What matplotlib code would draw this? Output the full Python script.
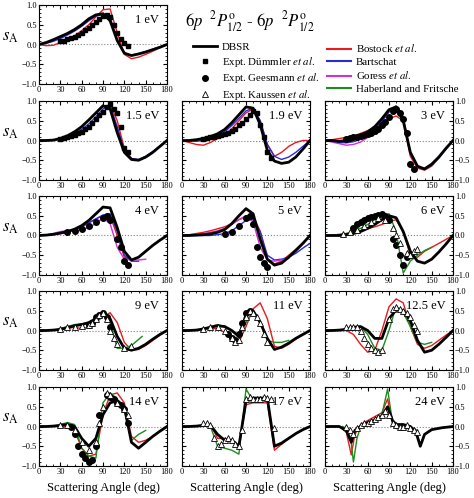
import matplotlib
matplotlib.use("Agg")
import matplotlib.pyplot as plt
from matplotlib.lines import Line2D
from matplotlib.ticker import MultipleLocator

plt.rcParams['font.family'] = ['Liberation Serif', 'DejaVu Serif']
plt.rcParams['mathtext.fontset'] = 'stix'

G = list(range(0, 181, 10))

# ---- 1 eV
e1_dbsr = [0, 0.05, 0.12, 0.2, 0.28, 0.38, 0.5, 0.65, 0.75, 0.78, 0.6, 0.1, -0.22, -0.28, -0.24, -0.19, -0.13, -0.07, 0]
e1_red = [0, -0.03, -0.02, 0.05, 0.12, 0.22, 0.35, 0.5, 0.7, 0.88, 0.9, 0.3, -0.25, -0.36, -0.32, -0.25, -0.17, -0.08, 0]
e1_blue = [0, 0.03, 0.08, 0.15, 0.24, 0.34, 0.46, 0.6, 0.72, 0.76, 0.7, 0.1, -0.22, -0.27, -0.23, -0.18, -0.12, -0.06, 0]
e1_sq_x = list(range(30, 126, 5))
e1_sq_y = [0.08, 0.1, 0.13, 0.17, 0.2, 0.25, 0.3, 0.36, 0.43, 0.5, 0.58, 0.65, 0.72, 0.75, 0.7, 0.5, 0.3, 0.15, 0.05, -0.05]

# ---- 1.5 eV
e15_dbsr = [0, 0, 0.01, 0.05, 0.12, 0.22, 0.35, 0.52, 0.7, 0.88, 0.8, 0.2, -0.3, -0.48, -0.5, -0.42, -0.3, -0.15, 0]
e15_red = [0, 0, 0, 0.03, 0.08, 0.15, 0.22, 0.35, 0.5, 0.7, 0.92, 0.5, -0.2, -0.45, -0.5, -0.43, -0.3, -0.15, 0]
e15_blue = [0, 0, 0.01, 0.04, 0.1, 0.18, 0.28, 0.42, 0.6, 0.8, 0.88, 0.35, -0.25, -0.46, -0.48, -0.4, -0.28, -0.14, 0]
e15_sq_y = [0.05, 0.07, 0.1, 0.12, 0.15, 0.18, 0.22, 0.28, 0.35, 0.45, 0.55, 0.65, 0.72, 0.85, 0.92, 0.8, 0.7, 0.35, -0.2, -0.3]

# ---- 1.9 eV
e19_dbsr = [0, 0, 0.02, 0.05, 0.1, 0.17, 0.28, 0.45, 0.65, 0.85, 0.82, 0.4, -0.25, -0.52, -0.58, -0.55, -0.42, -0.22, 0]
e19_red = [0, -0.05, -0.1, -0.12, -0.05, 0.05, 0.15, 0.3, 0.5, 0.7, 0.8, 0.5, -0.1, -0.4, -0.3, -0.15, -0.05, 0, 0]
e19_blue = [0, -0.01, -0.02, 0, 0.05, 0.12, 0.22, 0.38, 0.56, 0.75, 0.82, 0.5, -0.1, -0.4, -0.48, -0.42, -0.3, -0.15, 0]
e19_sq_y = [0.05, 0.07, 0.08, 0.1, 0.12, 0.15, 0.17, 0.2, 0.23, 0.3, 0.38, 0.45, 0.55, 0.65, 0.75, 0.7, 0.4, 0.1, -0.3, -0.45]

# ---- 3 eV
e3_dbsr = [0, 0, -0.02, 0, 0.05, 0.12, 0.22, 0.35, 0.55, 0.78, 0.85, 0.5, -0.3, -0.65, -0.72, -0.6, -0.42, -0.2, 0]
e3_red = [0, 0.02, 0.05, 0.08, 0.12, 0.18, 0.25, 0.32, 0.45, 0.55, 0.62, 0.5, -0.4, -0.7, -0.75, -0.65, -0.45, -0.22, 0]
e3_blue = [0, -0.02, -0.05, -0.06, -0.03, 0.03, 0.12, 0.27, 0.48, 0.72, 0.85, 0.55, -0.3, -0.65, -0.72, -0.62, -0.44, -0.22, 0]
e3_mag = [0, -0.04, -0.08, -0.12, -0.1, -0.04, 0.08, 0.25, 0.48, 0.75, 0.88, 0.6, -0.35, -0.68, -0.7, -0.6, -0.42, -0.2, 0]
e3_ci_y = [0.05, 0.07, 0.08, 0.1, 0.12, 0.14, 0.17, 0.2, 0.25, 0.3, 0.38, 0.48, 0.6, 0.75, 0.8, 0.7, 0.55, 0.2, -0.6, -0.72]

# ---- 4 eV
e4_dbsr = [0, 0.01, 0.03, 0.06, 0.1, 0.16, 0.25, 0.38, 0.55, 0.72, 0.7, 0.2, -0.4, -0.62, -0.55, -0.4, -0.25, -0.12, 0]
e4_red = [0, 0.01, 0.02, 0.05, 0.08, 0.14, 0.22, 0.32, 0.42, 0.5, 0.5, 0.0, -0.55, -0.62]
e4_blue = [0, 0.01, 0.03, 0.06, 0.1, 0.15, 0.22, 0.32, 0.42, 0.52, 0.55, 0.1, -0.5, -0.65, -0.65]
e4_mag = [0, 0.01, 0.05, 0.1, 0.12, 0.12, 0.15, 0.2, 0.3, 0.45, 0.3, -0.3, -0.6, -0.62, -0.62, -0.6]
e4_ci_x = [40, 50, 60, 70, 80, 90, 95, 100, 110, 115, 120, 125]
e4_ci_y = [0.08, 0.12, 0.17, 0.25, 0.35, 0.45, 0.5, 0.4, -0.1, -0.3, -0.65, -0.75]

# ---- 5 eV
e5_dbsr = [0, 0, 0.01, 0.02, 0.04, 0.08, 0.15, 0.3, 0.5, 0.68, 0.55, -0.1, -0.6, -0.75, -0.7, -0.55, -0.38, -0.2, 0]
e5_red = [0, 0.02, 0.05, 0.08, 0.12, 0.17, 0.22, 0.3, 0.4, 0.48, 0.5, 0.1, -0.6, -0.72, -0.65, -0.5, -0.35, -0.18, 0]
e5_blue = [0, 0, 0, 0, 0, 0.02, 0.05, 0.12, 0.25, 0.38, 0.4, 0.1, -0.5, -0.62, -0.6, -0.55, -0.45, -0.32, -0.2]
e5_mag = [0, 0.01, 0.03, 0.05, 0.08, 0.12, 0.18, 0.28, 0.4, 0.5, 0.35, -0.3, -0.62, -0.65, -0.62, -0.58]
e5_ci_x = [60, 70, 80, 90, 95, 100, 105, 110, 115, 120]
e5_ci_y = [0.05, 0.1, 0.25, 0.45, 0.5, 0.3, -0.3, -0.55, -0.7, -0.8]

# ---- 6 eV
e6_dbsr = [0, 0, 0, 0.02, 0.05, 0.1, 0.18, 0.28, 0.4, 0.5, 0.45, 0.1, -0.4, -0.65, -0.7, -0.6, -0.42, -0.22, 0]
e6_red = [0, 0.01, 0.03, 0.05, 0.08, 0.12, 0.17, 0.22, 0.28, 0.35, 0.4, 0.1, -0.5, -0.55, -0.4, -0.3, -0.2, -0.1, 0]
e6_grn_x = list(range(20, 151, 10))
e6_grn = [0.02, 0.05, 0.1, 0.18, 0.28, 0.4, 0.5, 0.55, 0.1, -0.95, -0.65, -0.5, -0.38, -0.3]
e6_ci_x = [40, 45, 50, 55, 60, 65, 70, 75, 80, 85, 90, 95, 100, 105, 110, 115, 120]
e6_ci_y = [0.2, 0.3, 0.35, 0.4, 0.45, 0.48, 0.5, 0.52, 0.55, 0.5, 0.4, -0.1, -0.25, -0.5, -0.75, -0.55, -0.5]
e6_tr_x = [25, 35, 45, 55, 65, 75, 85, 95, 100, 105, 115, 120, 125, 130]
e6_tr_y = [0.05, 0.1, 0.15, 0.25, 0.35, 0.45, 0.4, 0.2, 0.0, -0.2, -0.45, -0.5, -0.4, -0.35]

# ---- 9 eV
e9_dbsr = [0, 0, 0.01, 0.03, 0.07, 0.12, 0.15, 0.2, 0.3, 0.47, 0.3, -0.15, -0.45, -0.5, -0.45, -0.35, -0.22, -0.1, 0]
e9_red = [0, 0, 0.01, 0.03, 0.06, 0.08, 0.05, 0.08, 0.2, 0.35, 0.45, 0.2, -0.3, -0.5, -0.48, -0.38, -0.25, -0.12, 0]
e9_grn_x = [30, 40, 50, 60, 70, 80, 90, 100, 110, 120, 130, 145]
e9_grn = [0.05, 0.1, 0.15, 0.17, 0.2, 0.3, 0.45, 0.2, -0.45, -0.45, -0.38, -0.15]
e9_tr_x = [30, 40, 50, 60, 70, 75, 80, 85, 90, 95, 100, 105, 110, 120, 130]
e9_tr_y = [0.05, 0.08, 0.1, 0.12, 0.15, 0.2, 0.3, 0.4, 0.45, 0.3, 0.0, -0.2, -0.35, -0.45, -0.4]
e9_ci_x = [70, 75, 80, 85, 90, 95, 100]
e9_ci_y = [0.15, 0.2, 0.35, 0.4, 0.45, 0.35, 0.1]

# ---- 11 eV
e11_dbsr = [0, 0, 0.01, 0.04, 0.08, 0.12, 0.1, 0.0, -0.15, 0.4, 0.5, 0.2, -0.2, -0.48, -0.42, -0.32, -0.2, -0.1, 0]
e11_red = [0, 0, 0.01, 0.03, 0.05, 0.05, -0.05, -0.2, -0.3, 0.1, 0.55, 0.7, 0.3, -0.4, -0.45, -0.35, -0.22, -0.1, 0]
e11_grn_x = list(range(30, 151, 10))
e11_grn = [0.05, 0.1, 0.15, 0.1, 0.0, -0.15, 0.2, 0.5, 0.2, -0.25, -0.3, -0.3, -0.25]
e11_tr_x = [30, 40, 50, 60, 70, 75, 80, 85, 90, 95, 100, 105, 110, 115, 120]
e11_tr_y = [0.05, 0.08, 0.1, 0.0, -0.2, -0.3, -0.25, 0.1, 0.35, 0.5, 0.45, 0.35, 0.2, -0.1, -0.3]
e11_ci_x = [65, 70, 75, 80, 85, 90, 95]
e11_ci_y = [-0.1, -0.2, -0.25, -0.1, 0.2, 0.45, 0.5]

# ---- 12.5 eV
e125_dbsr = [0, 0, 0.01, 0.03, 0.08, 0.1, 0.0, -0.2, -0.2, 0.3, 0.52, 0.5, 0.25, -0.25, -0.55, -0.5, -0.35, -0.18, 0]
e125_red = [0, 0, 0, 0, -0.1, -0.35, -0.55, -0.5, 0.0, 0.6, 0.8, 0.7, 0.1, -0.35, -0.45, -0.38, -0.25, -0.12, 0]
e125_grn_x = list(range(30, 151, 10))
e125_grn = [0.05, 0.08, 0.1, -0.1, -0.45, -0.5, 0.0, 0.62, 0.45, 0.1, -0.3, -0.35, -0.3]
e125_tr_x = [30, 35, 40, 45, 50, 55, 60, 65, 70, 75, 80, 90, 95, 100, 105, 110, 115, 120, 125, 130]
e125_tr_y = [0.08, 0.1, 0.1, 0.08, 0.0, -0.2, -0.35, -0.45, -0.5, -0.55, -0.5, 0.3, 0.55, 0.6, 0.55, 0.5, 0.45, 0.35, 0.15, 0.0]

# ---- 14 eV
e14_dbsr = [0, 0, 0.01, 0.03, 0.05, 0.0, -0.3, -0.5, -0.3, 0.3, 0.6, 0.65, 0.5, -0.4, -0.55, -0.4, -0.25, -0.12, 0]
e14_red = [0, 0, 0, 0, 0, -0.1, -0.55, -0.75, -0.7, 0.3, 0.8, 0.85, 0.6, -0.25, -0.4, -0.35, -0.25, -0.12, 0]
e14_grn_x = list(range(30, 151, 10))
e14_grn = [0.05, 0.1, 0.05, -0.55, -0.75, -0.8, 0.6, 0.85, 0.7, 0.4, -0.35, -0.2, -0.1]
e14_ci_x = [45, 50, 55, 60, 65, 70, 75, 80, 85, 95, 100, 105, 110, 115, 120, 125]
e14_ci_y = [0.0, -0.2, -0.5, -0.7, -0.8, -0.9, -0.85, -0.5, 0.3, 0.8, 0.75, 0.7, 0.6, 0.55, 0.45, 0.1]
e14_tr_x = [30, 40, 50, 60, 70, 80, 85, 90, 95, 100, 110, 120, 125]
e14_tr_y = [0.05, 0.05, -0.1, -0.4, -0.6, -0.4, 0.1, 0.5, 0.85, 0.8, 0.6, 0.45, 0.3]

# ---- 17 eV
e17_dbsr = [0, 0, 0.01, 0.03, 0.03, -0.2, -0.35, -0.35, -0.5, 0.65, 0.72, 0.72, 0.72, -0.5, -0.42, -0.3, -0.18, -0.08, 0]
e17_red = [0, 0, 0, 0, 0.05, -0.3, -0.3, -0.35, -0.5, 0.55, 0.6, 0.6, 0.6, -0.6, -0.45, -0.3, -0.18, -0.08, 0]
e17_grn_x = list(range(30, 131, 10))
e17_grn = [0.05, 0.0, -0.5, -0.55, -0.6, -0.7, 0.95, 0.65, 0.65, 0.7, -0.5]
e17_tr_x = list(range(30, 131, 5))
e17_tr_y = [0.1, 0.1, 0.05, -0.3, -0.5, -0.45, -0.35, -0.3, -0.35, -0.45, -0.5, -0.1, 0.7, 0.75, 0.7, 0.7, 0.7, 0.75, 0.72, 0.7, -0.05]

# ---- 24 eV
e24_x = [0, 20, 30, 37, 42, 50, 60, 70, 80, 88, 95, 100, 110, 120, 128, 134, 140, 150, 165, 180]
e24_dbsr = [0, 0, -0.1, -0.4, -0.1, 0.0, 0.1, 0.15, 0.25, 0.5, 0.15, 0.05, 0.05, 0.0, -0.15, -0.5, -0.2, -0.08, -0.03, 0]
e24_red = [0, 0, -0.15, -0.72, -0.2, 0.05, 0.15, 0.25, 0.35, 0.7, 0.05, -0.05, -0.05, -0.05, -0.15, -0.45, -0.2, -0.08, -0.03, 0]
e24_grn_x = [25, 30, 36, 40, 45, 50, 60, 70, 80, 88, 95, 100, 110, 120, 130]
e24_grn = [0, -0.05, -0.3, -0.9, -0.3, 0, 0.1, 0.2, 0.3, 0.95, 0.1, 0.05, 0.05, 0.0, -0.1]
e24_tr_x = list(range(30, 131, 5))
e24_tr_y = [0.0, -0.1, -0.2, -0.05, 0.05, 0.1, 0.1, 0.15, 0.2, 0.25, 0.3, 0.4, 0.3, 0.1, 0.05, 0.0, 0.0, 0.05, -0.05, -0.1, -0.15]

RED, BLUE, MAG, GRN = '#e8191f', '#2a2ad8', '#d030d8', '#1e8c1e'

# (label, row, col, lines [(x, y, color, lw)], markers [(x, y, kind)])
panels = [
    ('1 eV', 0, 0, [(G, e1_red, RED, 1), (G, e1_blue, BLUE, 1), (G, e1_dbsr, 'k', 2)], [(e1_sq_x, e1_sq_y, 's')]),
    ('1.5 eV', 1, 0, [(G, e15_red, RED, 1), (G, e15_blue, BLUE, 1), (G, e15_dbsr, 'k', 2)], [(e1_sq_x, e15_sq_y, 's')]),
    ('1.9 eV', 1, 1, [(G, e19_red, RED, 1), (G, e19_blue, BLUE, 1), (G, e19_dbsr, 'k', 2)], [(e1_sq_x, e19_sq_y, 's')]),
    ('3 eV', 1, 2, [(G, e3_red, RED, 1), (G, e3_mag, MAG, 1), (G, e3_blue, BLUE, 1), (G, e3_dbsr, 'k', 2)], [(e1_sq_x, e3_ci_y, 'o')]),
    ('4 eV', 2, 0, [(G[:14], e4_red, RED, 1), (G[:15], e4_blue, BLUE, 1), (G[:16], e4_mag, MAG, 1), (G, e4_dbsr, 'k', 2)], [(e4_ci_x, e4_ci_y, 'o')]),
    ('5 eV', 2, 1, [(G, e5_red, RED, 1), (G, e5_blue, BLUE, 1), (G[:16], e5_mag, MAG, 1), (G, e5_dbsr, 'k', 2)], [(e5_ci_x, e5_ci_y, 'o')]),
    ('6 eV', 2, 2, [(G, e6_red, RED, 1), (e6_grn_x, e6_grn, GRN, 1), (G, e6_dbsr, 'k', 2)], [(e6_ci_x, e6_ci_y, 'o'), (e6_tr_x, e6_tr_y, '^')]),
    ('9 eV', 3, 0, [(G, e9_red, RED, 1), (e9_grn_x, e9_grn, GRN, 1), (G, e9_dbsr, 'k', 2)], [(e9_ci_x, e9_ci_y, 'o'), (e9_tr_x, e9_tr_y, '^')]),
    ('11 eV', 3, 1, [(G, e11_red, RED, 1), (e11_grn_x, e11_grn, GRN, 1), (G, e11_dbsr, 'k', 2)], [(e11_ci_x, e11_ci_y, 'o'), (e11_tr_x, e11_tr_y, '^')]),
    ('12.5 eV', 3, 2, [(G, e125_red, RED, 1), (e125_grn_x, e125_grn, GRN, 1), (G, e125_dbsr, 'k', 2)], [(e125_tr_x, e125_tr_y, '^')]),
    ('14 eV', 4, 0, [(G, e14_red, RED, 1), (e14_grn_x, e14_grn, GRN, 1), (G, e14_dbsr, 'k', 2)], [(e14_ci_x, e14_ci_y, 'o'), (e14_tr_x, e14_tr_y, '^')]),
    ('17 eV', 4, 1, [(G, e17_red, RED, 1), (e17_grn_x, e17_grn, GRN, 1), (G, e17_dbsr, 'k', 2)], [(e17_tr_x, e17_tr_y, '^')]),
    ('24 eV', 4, 2, [(e24_x, e24_red, RED, 1), (e24_grn_x, e24_grn, GRN, 1), (e24_x, e24_dbsr, 'k', 2)], [(e24_tr_x, e24_tr_y, '^')]),
]

W, H = 474, 498
fig = plt.figure(figsize=(W / 100, H / 100), dpi=100)
col_x = [39, 182, 325]
row_y = [5, 101, 196, 291, 387]
aw, ah = 128, 79

for label, r, c, lines, marks in panels:
    ax = fig.add_axes([col_x[c] / W, 1 - (row_y[r] + ah) / H, aw / W, ah / H])
    ax.axhline(0, color='gray', lw=0.8, ls=':')
    for x, y, col, lw in lines:
        ax.plot(x, y, color=col, lw=lw)
    for x, y, kind in marks:
        if kind == '^':
            ax.plot(x, y, '^', ms=4, mfc='white', mec='k', mew=0.6)
        else:
            ax.plot(x, y, kind, ms=4 if kind == 'o' else 3.5, color='k')
    ax.set_xlim(0, 180)
    ax.set_ylim(-1, 1)
    ax.xaxis.set_major_locator(MultipleLocator(30))
    ax.xaxis.set_minor_locator(MultipleLocator(10))
    ax.yaxis.set_major_locator(MultipleLocator(0.5))
    ax.yaxis.set_minor_locator(MultipleLocator(0.1))
    ax.tick_params(which='both', direction='in', top=True, right=True, labelsize=6, pad=1.5)
    ax.tick_params(which='major', length=3)
    ax.tick_params(which='minor', length=1.5)
    if c == 0:
        ax.set_ylabel(r'$s_{\rm A}$', fontsize=12, rotation=0, labelpad=8)
    elif c == 2:
        ax.tick_params(labelleft=False, labelright=True)
    else:
        ax.tick_params(labelleft=False)
    if r == 4:
        ax.set_xlabel('Scattering Angle (deg)', fontsize=9, labelpad=4)
    ax.text(0.94, 0.88, label, transform=ax.transAxes, ha='right', va='top', fontsize=9)

fig.text(185 / W, 1 - 22 / H, r'$6p\ \ ^2P^{\rm o}_{1/2}$ - $6p\ \ ^2P^{\rm o}_{1/2}$', fontsize=12, va='center')

left_handles = [
    Line2D([], [], color='k', lw=2),
    Line2D([], [], ls='', marker='s', color='k', ms=3.5),
    Line2D([], [], ls='', marker='o', color='k', ms=4),
    Line2D([], [], ls='', marker='^', mfc='white', mec='k', ms=4, mew=0.6),
]
left_labels = ['DBSR', r'Expt. Dümmler $et\ al.$', r'Expt. Geesmann $et\ al.$', r'Expt. Kaussen $et\ al.$']
right_handles = [Line2D([], [], color=col, lw=1.5) for col in (RED, BLUE, MAG, GRN)]
right_labels = [r'Bostock $et\ al.$', 'Bartschat', r'Goress $et\ al.$', 'Haberland and Fritsche']
leg_kw = dict(frameon=False, fontsize=7.8, handlelength=2.2, labelspacing=0.25, borderpad=0, handletextpad=0.4)
fig.legend(left_handles, left_labels, loc='upper left', bbox_to_anchor=(188 / W, 1 - 37 / H), **leg_kw)
fig.legend(right_handles, right_labels, loc='upper left', bbox_to_anchor=(322 / W, 1 - 37 / H), **leg_kw)

fig.savefig('out.png', dpi=100)
